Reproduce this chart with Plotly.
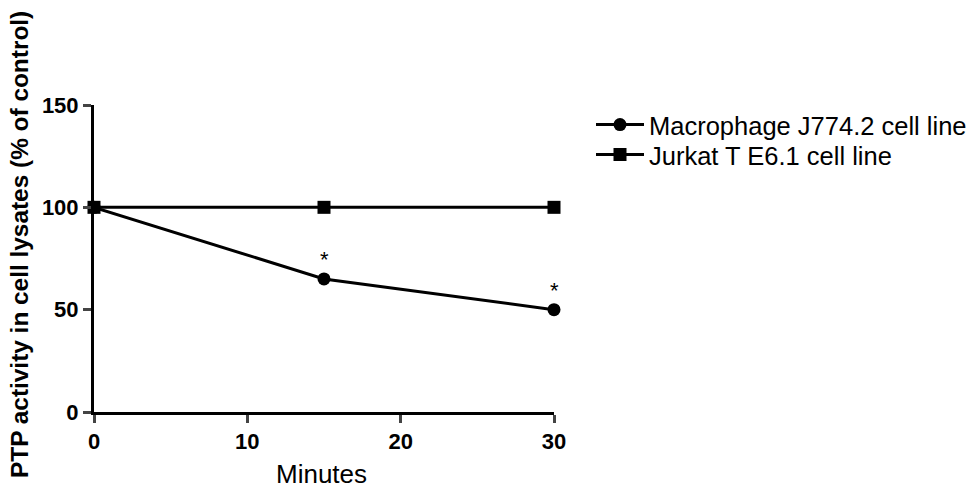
import plotly.graph_objects as go

minutes = [0, 15, 30]
macrophage = [100, 65, 50]
jurkat = [100, 100, 100]
sig_x = [15, 30]
sig_y = [65, 50]
x_ticks = [0, 10, 20, 30]
y_ticks = [0, 50, 100, 150]

FONT = "Arial, Liberation Sans, sans-serif"
W, H = 969, 499
L, R, T, B = 94, 415, 105, 87
PW, PH = W - L - R, H - T - B


def px_x(p):
    return (p - L) / PW


def px_y(p):
    return (H - B - p) / PH


fig = go.Figure()
fig.add_trace(go.Scatter(
    x=minutes, y=macrophage, mode="lines+markers",
    name="Macrophage J774.2 cell line", legend="legend",
    line=dict(color="black", width=3),
    marker=dict(symbol="circle", size=13, color="black"),
    cliponaxis=False,
))
fig.add_trace(go.Scatter(
    x=minutes, y=jurkat, mode="lines+markers",
    name="Jurkat T E6.1 cell line", legend="legend2",
    line=dict(color="black", width=3),
    marker=dict(symbol="square", size=13, color="black"),
    cliponaxis=False,
))

for sx, sy in zip(sig_x, sig_y):
    fig.add_annotation(x=sx, y=sy, text="*", showarrow=False, yshift=19,
                       font=dict(family=FONT, size=22, color="black"))

fig.add_annotation(text="PTP activity in cell lysates (% of control)", textangle=-90,
                   xref="paper", yref="paper", x=px_x(19), y=px_y(245),
                   xanchor="center", yanchor="middle", showarrow=False,
                   font=dict(family=FONT, size=24.4, color="black", weight="bold"))
fig.add_annotation(text="Minutes", xref="paper", yref="paper",
                   x=px_x(321), y=px_y(474), xanchor="center", yanchor="middle",
                   showarrow=False, font=dict(family=FONT, size=26, color="black"))

leg_common = dict(xanchor="left", yanchor="middle", itemwidth=48,
                  font=dict(family=FONT, size=25.5, color="black"),
                  bgcolor="rgba(0,0,0,0)")
fig.update_layout(
    width=W, height=H,
    margin=dict(l=L, r=R, t=T, b=B, autoexpand=False),
    plot_bgcolor="white", paper_bgcolor="white",
    font=dict(family=FONT, color="black"),
    showlegend=True,
    legend=dict(x=px_x(591), y=px_y(125), **leg_common),
    legend2=dict(x=px_x(591), y=px_y(155), **leg_common),
)
fig.update_xaxes(
    range=[0, 30], tickvals=x_ticks, ticks="outside", ticklen=8, tickwidth=3,
    showline=True, linecolor="black", linewidth=3, showgrid=False, zeroline=False,
    automargin=False,
    tickfont=dict(family=FONT, size=22, color="black", weight="bold"),
)
fig.update_yaxes(
    range=[0, 150], tickvals=y_ticks, ticks="outside", ticklen=8, tickwidth=3,
    showline=True, linecolor="black", linewidth=3, showgrid=False, zeroline=False,
    automargin=False,
    tickfont=dict(family=FONT, size=22, color="black", weight="bold"),
)

fig.write_html("out.html", config={"displayModeBar": False},
               post_script="document.body.style.margin='0px';document.body.style.overflow='hidden';")
